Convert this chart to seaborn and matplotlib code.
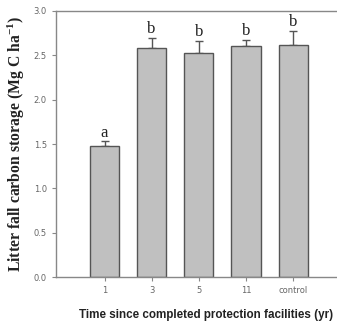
import matplotlib
matplotlib.use("Agg")
import matplotlib.pyplot as plt
import seaborn as sns
import pandas as pd
import numpy as np

categories = ["1", "3", "5", "11", "control"]
values = [1.48, 2.58, 2.53, 2.61, 2.62]
errors = [0.05, 0.12, 0.13, 0.06, 0.15]
letters = ["a", "b", "b", "b", "b"]
yticks = [0.0, 0.5, 1.0, 1.5, 2.0, 2.5, 3.0]

sns.set_style("ticks")
plt.rcParams["mathtext.fontset"] = "custom"
plt.rcParams["mathtext.rm"] = "Liberation Serif"
plt.rcParams["mathtext.bf"] = "Liberation Serif:bold"
df = pd.DataFrame({"time": categories, "storage": values})

fig = plt.figure(figsize=(3.37, 3.23), dpi=100)
ax = fig.add_axes([0.166, 0.142, 0.834, 0.824])

sns.barplot(data=df, x="time", y="storage", order=categories, color="#c0c0c0",
            saturation=1, width=0.62, edgecolor="#555555", linewidth=1.0,
            errorbar=None, ax=ax, zorder=2)

xs = np.arange(len(categories))
ax.errorbar(xs, values, yerr=[np.zeros(len(values)), errors], fmt="none",
            ecolor="#555555", elinewidth=1.0, capsize=3, capthick=1.0, zorder=1)

for x, v, e, l in zip(xs, values, errors, letters):
    ax.text(x, v + e + 0.01, l, ha="center", va="bottom", fontsize=12,
            family="Liberation Serif", color="#222222")

ax.set_xlim(-1.03, 4.93)
ax.set_ylim(0, 3.0)
ax.set_yticks(yticks)
ax.set_yticklabels([f"{t:.1f}" for t in yticks])

for s in ["left", "top", "bottom"]:
    ax.spines[s].set_color("#888888")
    ax.spines[s].set_linewidth(1.0)
ax.spines["right"].set_visible(False)
ax.tick_params(axis="both", colors="#888888", labelcolor="#666666", labelsize=6,
               length=3, width=0.8, direction="out")

ax.set_ylabel("Litter fall carbon storage (Mg C ha$\\mathbf{^{-1}}$)",
              family="Liberation Serif", fontweight="bold", fontsize=11.3,
              color="#222222", labelpad=5)
ax.set_xlabel("Time since completed protection facilities (yr)",
              family="Liberation Sans", fontweight="bold", fontsize=8.4,
              color="#222222")
ax.xaxis.set_label_coords(0.535, -0.118)

fig.savefig("out.png", dpi=100)
